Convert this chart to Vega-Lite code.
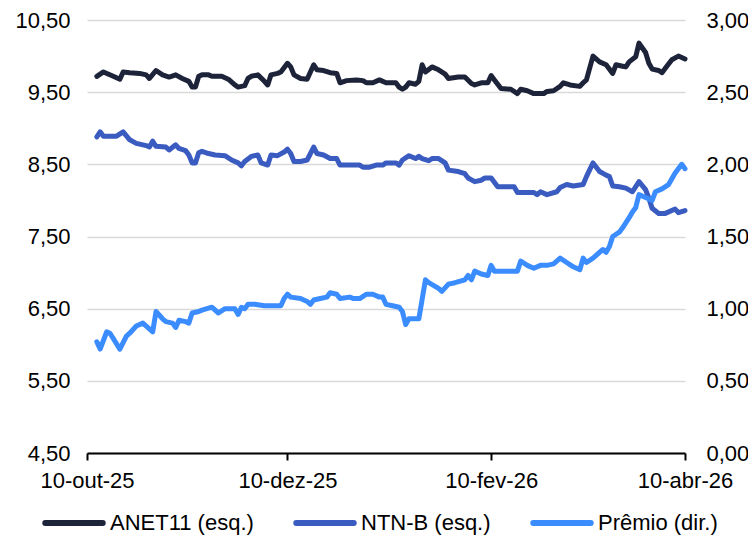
{
  "$schema": "https://vega.github.io/schema/vega-lite/v6.json",
  "width": 598,
  "height": 433,
  "autosize": {"type": "none"},
  "padding": {"left": 87, "top": 20, "right": 63, "bottom": 90},
  "background": "white",
  "config": {
    "view": {"stroke": null},
    "font": "Liberation Sans",
    "axis": {"labelFont": "Liberation Sans", "labelFontSize": 22, "labelColor": "#000000"},
    "legend": {"labelFont": "Liberation Sans", "labelFontSize": 22, "labelColor": "#000000"}
  },
  "datasets": {
    "anet": [
      {"d": "2025-10-13", "v": 9.72}, {"d": "2025-10-15", "v": 9.78}, {"d": "2025-10-18", "v": 9.72}, {"d": "2025-10-20", "v": 9.68},
      {"d": "2025-10-21", "v": 9.78}, {"d": "2025-10-23", "v": 9.77}, {"d": "2025-10-26", "v": 9.76}, {"d": "2025-10-28", "v": 9.74},
      {"d": "2025-10-29", "v": 9.69}, {"d": "2025-10-31", "v": 9.80}, {"d": "2025-11-02", "v": 9.74}, {"d": "2025-11-04", "v": 9.71},
      {"d": "2025-11-06", "v": 9.74}, {"d": "2025-11-08", "v": 9.69}, {"d": "2025-11-10", "v": 9.65}, {"d": "2025-11-11", "v": 9.57},
      {"d": "2025-11-12", "v": 9.57}, {"d": "2025-11-13", "v": 9.72}, {"d": "2025-11-14", "v": 9.74}, {"d": "2025-11-16", "v": 9.74},
      {"d": "2025-11-17", "v": 9.72}, {"d": "2025-11-20", "v": 9.72}, {"d": "2025-11-22", "v": 9.68}, {"d": "2025-11-24", "v": 9.60},
      {"d": "2025-11-25", "v": 9.57}, {"d": "2025-11-27", "v": 9.59}, {"d": "2025-11-28", "v": 9.69}, {"d": "2025-11-29", "v": 9.72},
      {"d": "2025-12-01", "v": 9.74}, {"d": "2025-12-03", "v": 9.65}, {"d": "2025-12-04", "v": 9.60}, {"d": "2025-12-05", "v": 9.74},
      {"d": "2025-12-07", "v": 9.76}, {"d": "2025-12-08", "v": 9.78}, {"d": "2025-12-10", "v": 9.90}, {"d": "2025-12-11", "v": 9.85},
      {"d": "2025-12-12", "v": 9.74}, {"d": "2025-12-14", "v": 9.69}, {"d": "2025-12-16", "v": 9.68}, {"d": "2025-12-18", "v": 9.88},
      {"d": "2025-12-19", "v": 9.81}, {"d": "2025-12-21", "v": 9.80}, {"d": "2025-12-23", "v": 9.77}, {"d": "2025-12-25", "v": 9.76},
      {"d": "2025-12-26", "v": 9.63}, {"d": "2025-12-28", "v": 9.66}, {"d": "2025-12-31", "v": 9.67}, {"d": "2026-01-02", "v": 9.66},
      {"d": "2026-01-03", "v": 9.63}, {"d": "2026-01-05", "v": 9.63}, {"d": "2026-01-07", "v": 9.67}, {"d": "2026-01-09", "v": 9.63},
      {"d": "2026-01-12", "v": 9.63}, {"d": "2026-01-13", "v": 9.57}, {"d": "2026-01-14", "v": 9.54}, {"d": "2026-01-15", "v": 9.57},
      {"d": "2026-01-16", "v": 9.63}, {"d": "2026-01-18", "v": 9.61}, {"d": "2026-01-19", "v": 9.65}, {"d": "2026-01-20", "v": 9.88},
      {"d": "2026-01-21", "v": 9.78}, {"d": "2026-01-23", "v": 9.85}, {"d": "2026-01-25", "v": 9.81}, {"d": "2026-01-27", "v": 9.75},
      {"d": "2026-01-28", "v": 9.69}, {"d": "2026-01-31", "v": 9.71}, {"d": "2026-02-02", "v": 9.71}, {"d": "2026-02-04", "v": 9.62},
      {"d": "2026-02-05", "v": 9.60}, {"d": "2026-02-07", "v": 9.63}, {"d": "2026-02-09", "v": 9.63}, {"d": "2026-02-10", "v": 9.73},
      {"d": "2026-02-11", "v": 9.67}, {"d": "2026-02-13", "v": 9.55}, {"d": "2026-02-16", "v": 9.54}, {"d": "2026-02-18", "v": 9.48},
      {"d": "2026-02-19", "v": 9.54}, {"d": "2026-02-21", "v": 9.52}, {"d": "2026-02-23", "v": 9.48}, {"d": "2026-02-25", "v": 9.48},
      {"d": "2026-02-26", "v": 9.48}, {"d": "2026-02-27", "v": 9.51}, {"d": "2026-03-01", "v": 9.52}, {"d": "2026-03-03", "v": 9.58},
      {"d": "2026-03-04", "v": 9.63}, {"d": "2026-03-06", "v": 9.60}, {"d": "2026-03-09", "v": 9.58}, {"d": "2026-03-10", "v": 9.63},
      {"d": "2026-03-11", "v": 9.67}, {"d": "2026-03-13", "v": 10.00}, {"d": "2026-03-15", "v": 9.92}, {"d": "2026-03-17", "v": 9.88},
      {"d": "2026-03-19", "v": 9.76}, {"d": "2026-03-20", "v": 9.88}, {"d": "2026-03-22", "v": 9.86}, {"d": "2026-03-23", "v": 9.85},
      {"d": "2026-03-24", "v": 9.92}, {"d": "2026-03-26", "v": 9.99}, {"d": "2026-03-27", "v": 10.18}, {"d": "2026-03-29", "v": 10.05},
      {"d": "2026-03-30", "v": 9.90}, {"d": "2026-03-31", "v": 9.82}, {"d": "2026-04-02", "v": 9.80}, {"d": "2026-04-03", "v": 9.77},
      {"d": "2026-04-04", "v": 9.83}, {"d": "2026-04-06", "v": 9.95}, {"d": "2026-04-08", "v": 10.00}, {"d": "2026-04-10", "v": 9.96}
    ],
    "ntnb": [
      {"d": "2025-10-13", "v": 8.88}, {"d": "2025-10-14", "v": 8.95}, {"d": "2025-10-15", "v": 8.89}, {"d": "2025-10-19", "v": 8.89},
      {"d": "2025-10-21", "v": 8.95}, {"d": "2025-10-23", "v": 8.84}, {"d": "2025-10-25", "v": 8.79}, {"d": "2025-10-28", "v": 8.76},
      {"d": "2025-10-29", "v": 8.74}, {"d": "2025-10-30", "v": 8.82}, {"d": "2025-10-31", "v": 8.75}, {"d": "2025-11-03", "v": 8.74},
      {"d": "2025-11-04", "v": 8.70}, {"d": "2025-11-06", "v": 8.77}, {"d": "2025-11-07", "v": 8.72}, {"d": "2025-11-09", "v": 8.69},
      {"d": "2025-11-10", "v": 8.63}, {"d": "2025-11-11", "v": 8.52}, {"d": "2025-11-12", "v": 8.52}, {"d": "2025-11-13", "v": 8.66},
      {"d": "2025-11-14", "v": 8.68}, {"d": "2025-11-16", "v": 8.65}, {"d": "2025-11-18", "v": 8.63}, {"d": "2025-11-21", "v": 8.62},
      {"d": "2025-11-23", "v": 8.56}, {"d": "2025-11-25", "v": 8.52}, {"d": "2025-11-26", "v": 8.48}, {"d": "2025-11-27", "v": 8.54},
      {"d": "2025-11-29", "v": 8.61}, {"d": "2025-12-01", "v": 8.63}, {"d": "2025-12-02", "v": 8.52}, {"d": "2025-12-04", "v": 8.49},
      {"d": "2025-12-05", "v": 8.63}, {"d": "2025-12-07", "v": 8.62}, {"d": "2025-12-09", "v": 8.67}, {"d": "2025-12-10", "v": 8.71},
      {"d": "2025-12-11", "v": 8.65}, {"d": "2025-12-12", "v": 8.54}, {"d": "2025-12-14", "v": 8.54}, {"d": "2025-12-16", "v": 8.56},
      {"d": "2025-12-18", "v": 8.74}, {"d": "2025-12-19", "v": 8.65}, {"d": "2025-12-21", "v": 8.63}, {"d": "2025-12-23", "v": 8.58},
      {"d": "2025-12-25", "v": 8.58}, {"d": "2025-12-26", "v": 8.49}, {"d": "2025-12-28", "v": 8.49}, {"d": "2026-01-01", "v": 8.49},
      {"d": "2026-01-02", "v": 8.46}, {"d": "2026-01-04", "v": 8.46}, {"d": "2026-01-06", "v": 8.49}, {"d": "2026-01-08", "v": 8.49},
      {"d": "2026-01-09", "v": 8.52}, {"d": "2026-01-12", "v": 8.52}, {"d": "2026-01-13", "v": 8.49}, {"d": "2026-01-14", "v": 8.56},
      {"d": "2026-01-16", "v": 8.62}, {"d": "2026-01-18", "v": 8.58}, {"d": "2026-01-19", "v": 8.61}, {"d": "2026-01-20", "v": 8.58},
      {"d": "2026-01-22", "v": 8.55}, {"d": "2026-01-23", "v": 8.58}, {"d": "2026-01-25", "v": 8.58}, {"d": "2026-01-27", "v": 8.52},
      {"d": "2026-01-28", "v": 8.42}, {"d": "2026-01-31", "v": 8.40}, {"d": "2026-02-02", "v": 8.37}, {"d": "2026-02-03", "v": 8.31},
      {"d": "2026-02-05", "v": 8.26}, {"d": "2026-02-07", "v": 8.28}, {"d": "2026-02-08", "v": 8.31}, {"d": "2026-02-10", "v": 8.31},
      {"d": "2026-02-12", "v": 8.19}, {"d": "2026-02-17", "v": 8.19}, {"d": "2026-02-18", "v": 8.11}, {"d": "2026-02-23", "v": 8.11},
      {"d": "2026-02-24", "v": 8.08}, {"d": "2026-02-25", "v": 8.12}, {"d": "2026-02-27", "v": 8.08}, {"d": "2026-03-02", "v": 8.12},
      {"d": "2026-03-03", "v": 8.18}, {"d": "2026-03-05", "v": 8.22}, {"d": "2026-03-07", "v": 8.20}, {"d": "2026-03-10", "v": 8.22},
      {"d": "2026-03-11", "v": 8.33}, {"d": "2026-03-13", "v": 8.52}, {"d": "2026-03-15", "v": 8.40}, {"d": "2026-03-17", "v": 8.35},
      {"d": "2026-03-18", "v": 8.33}, {"d": "2026-03-19", "v": 8.20}, {"d": "2026-03-21", "v": 8.19}, {"d": "2026-03-23", "v": 8.17},
      {"d": "2026-03-25", "v": 8.12}, {"d": "2026-03-27", "v": 8.26}, {"d": "2026-03-29", "v": 8.15}, {"d": "2026-03-30", "v": 8.03},
      {"d": "2026-03-31", "v": 7.89}, {"d": "2026-04-02", "v": 7.82}, {"d": "2026-04-04", "v": 7.82}, {"d": "2026-04-07", "v": 7.88},
      {"d": "2026-04-08", "v": 7.83}, {"d": "2026-04-10", "v": 7.86}
    ],
    "premio": [
      {"d": "2025-10-13", "v": 0.77}, {"d": "2025-10-14", "v": 0.72}, {"d": "2025-10-16", "v": 0.84}, {"d": "2025-10-17", "v": 0.83},
      {"d": "2025-10-20", "v": 0.72}, {"d": "2025-10-22", "v": 0.81}, {"d": "2025-10-23", "v": 0.83}, {"d": "2025-10-25", "v": 0.88},
      {"d": "2025-10-27", "v": 0.90}, {"d": "2025-10-30", "v": 0.84}, {"d": "2025-10-31", "v": 0.98}, {"d": "2025-11-02", "v": 0.93},
      {"d": "2025-11-03", "v": 0.91}, {"d": "2025-11-05", "v": 0.90}, {"d": "2025-11-06", "v": 0.87}, {"d": "2025-11-07", "v": 0.92},
      {"d": "2025-11-09", "v": 0.91}, {"d": "2025-11-10", "v": 0.90}, {"d": "2025-11-11", "v": 0.97}, {"d": "2025-11-13", "v": 0.98},
      {"d": "2025-11-14", "v": 0.99}, {"d": "2025-11-17", "v": 1.01}, {"d": "2025-11-19", "v": 0.97}, {"d": "2025-11-21", "v": 1.00},
      {"d": "2025-11-24", "v": 1.00}, {"d": "2025-11-25", "v": 0.96}, {"d": "2025-11-26", "v": 1.01}, {"d": "2025-11-27", "v": 1.00},
      {"d": "2025-11-28", "v": 1.03}, {"d": "2025-11-30", "v": 1.03}, {"d": "2025-12-03", "v": 1.02}, {"d": "2025-12-08", "v": 1.02},
      {"d": "2025-12-09", "v": 1.07}, {"d": "2025-12-10", "v": 1.10}, {"d": "2025-12-11", "v": 1.08}, {"d": "2025-12-14", "v": 1.07},
      {"d": "2025-12-16", "v": 1.05}, {"d": "2025-12-17", "v": 1.03}, {"d": "2025-12-18", "v": 1.06}, {"d": "2025-12-20", "v": 1.07},
      {"d": "2025-12-22", "v": 1.08}, {"d": "2025-12-23", "v": 1.11}, {"d": "2025-12-25", "v": 1.10}, {"d": "2025-12-26", "v": 1.07},
      {"d": "2025-12-29", "v": 1.08}, {"d": "2025-12-30", "v": 1.07}, {"d": "2026-01-01", "v": 1.07}, {"d": "2026-01-03", "v": 1.10},
      {"d": "2026-01-05", "v": 1.10}, {"d": "2026-01-07", "v": 1.08}, {"d": "2026-01-08", "v": 1.08}, {"d": "2026-01-09", "v": 1.03},
      {"d": "2026-01-11", "v": 1.02}, {"d": "2026-01-13", "v": 1.01}, {"d": "2026-01-14", "v": 0.98}, {"d": "2026-01-15", "v": 0.89},
      {"d": "2026-01-16", "v": 0.93}, {"d": "2026-01-19", "v": 0.93}, {"d": "2026-01-21", "v": 1.20}, {"d": "2026-01-22", "v": 1.18},
      {"d": "2026-01-25", "v": 1.14}, {"d": "2026-01-26", "v": 1.12}, {"d": "2026-01-28", "v": 1.17}, {"d": "2026-01-30", "v": 1.18},
      {"d": "2026-02-02", "v": 1.20}, {"d": "2026-02-03", "v": 1.23}, {"d": "2026-02-04", "v": 1.20}, {"d": "2026-02-05", "v": 1.26},
      {"d": "2026-02-07", "v": 1.24}, {"d": "2026-02-09", "v": 1.23}, {"d": "2026-02-10", "v": 1.30}, {"d": "2026-02-11", "v": 1.26},
      {"d": "2026-02-13", "v": 1.26}, {"d": "2026-02-18", "v": 1.26}, {"d": "2026-02-19", "v": 1.33}, {"d": "2026-02-21", "v": 1.30},
      {"d": "2026-02-23", "v": 1.28}, {"d": "2026-02-25", "v": 1.30}, {"d": "2026-02-27", "v": 1.30}, {"d": "2026-03-01", "v": 1.31},
      {"d": "2026-03-03", "v": 1.35}, {"d": "2026-03-05", "v": 1.32}, {"d": "2026-03-07", "v": 1.29}, {"d": "2026-03-09", "v": 1.27},
      {"d": "2026-03-10", "v": 1.35}, {"d": "2026-03-11", "v": 1.32}, {"d": "2026-03-13", "v": 1.35}, {"d": "2026-03-16", "v": 1.41},
      {"d": "2026-03-17", "v": 1.39}, {"d": "2026-03-18", "v": 1.43}, {"d": "2026-03-19", "v": 1.50}, {"d": "2026-03-21", "v": 1.53},
      {"d": "2026-03-22", "v": 1.56}, {"d": "2026-03-24", "v": 1.63}, {"d": "2026-03-25", "v": 1.67}, {"d": "2026-03-26", "v": 1.70},
      {"d": "2026-03-27", "v": 1.79}, {"d": "2026-03-29", "v": 1.77}, {"d": "2026-03-31", "v": 1.75}, {"d": "2026-04-01", "v": 1.81},
      {"d": "2026-04-03", "v": 1.83}, {"d": "2026-04-05", "v": 1.86}, {"d": "2026-04-07", "v": 1.94}, {"d": "2026-04-09", "v": 2.00},
      {"d": "2026-04-10", "v": 1.97}
    ]
  },
  "encoding": {
    "x": {
      "field": "d",
      "type": "temporal",
      "scale": {
        "type": "utc",
        "domain": [
          {"year": 2025, "month": 10, "date": 10, "utc": true},
          {"year": 2026, "month": 4, "date": 10, "utc": true}
        ]
      },
      "axis": {
        "title": null,
        "values": [
          {"year": 2025, "month": 10, "date": 10, "utc": true},
          {"year": 2025, "month": 12, "date": 10, "utc": true},
          {"year": 2026, "month": 2, "date": 10, "utc": true},
          {"year": 2026, "month": 4, "date": 10, "utc": true}
        ],
        "labelExpr": "utcdate(datum.value) + '-' + ['jan','fev','mar','abr','mai','jun','jul','ago','set','out','nov','dez'][utcmonth(datum.value)] + '-' + utcFormat(datum.value, '%y')",
        "grid": false,
        "domainColor": "#000000",
        "domainWidth": 2,
        "tickColor": "#000000",
        "tickWidth": 2,
        "tickSize": 7,
        "labelPadding": 10,
        "labelAngle": 0,
        "labelFlush": false,
        "labelOverlap": false,
        "zindex": 1
      }
    }
  },
  "layer": [
    {
      "layer": [
        {
          "data": {"name": "anet"},
          "mark": {"type": "line", "strokeWidth": 5, "strokeJoin": "round", "strokeCap": "round"},
          "encoding": {
            "y": {
              "field": "v",
              "type": "quantitative",
              "scale": {"domain": [4.5, 10.5], "nice": false, "zero": false},
              "axis": {
                "title": null,
                "values": [4.5, 5.5, 6.5, 7.5, 8.5, 9.5, 10.5],
                "labelExpr": "replace(format(datum.value, '.2f'), '.', ',')",
                "domain": false,
                "ticks": false,
                "grid": true,
                "gridColor": "#d9d9d9",
                "gridWidth": 1.5,
                "labelPadding": 17
              }
            },
            "color": {
              "datum": "ANET11 (esq.)",
              "type": "nominal",
              "scale": {
                "domain": ["ANET11 (esq.)", "NTN-B (esq.)", "Prêmio (dir.)"],
                "range": ["#1d2339", "#3a5bc0", "#3b8cff"]
              },
              "legend": {
                "orient": "none",
                "legendX": -45,
                "legendY": 471,
                "direction": "horizontal",
                "title": null,
                "symbolType": "stroke",
                "symbolStrokeWidth": 6,
                "symbolSize": 3300,
                "columnPadding": 30,
                "labelOffset": 4,
                "encode": {"symbols": {"update": {"strokeCap": {"value": "round"}}}}
              }
            }
          }
        },
        {
          "data": {"name": "ntnb"},
          "mark": {"type": "line", "strokeWidth": 5, "strokeJoin": "round", "strokeCap": "round"},
          "encoding": {
            "y": {"field": "v", "type": "quantitative"},
            "color": {"datum": "NTN-B (esq.)", "type": "nominal"}
          }
        }
      ]
    },
    {
      "data": {"name": "premio"},
      "mark": {"type": "line", "strokeWidth": 5, "strokeJoin": "round", "strokeCap": "round"},
      "encoding": {
        "y": {
          "field": "v",
          "type": "quantitative",
          "scale": {"domain": [0, 3], "nice": false},
          "axis": {
            "orient": "right",
            "title": null,
            "values": [0, 0.5, 1, 1.5, 2, 2.5, 3],
            "labelExpr": "replace(format(datum.value, '.2f'), '.', ',')",
            "domain": false,
            "ticks": false,
            "grid": false,
            "labelPadding": 21
          }
        },
        "color": {"datum": "Prêmio (dir.)", "type": "nominal"}
      }
    }
  ],
  "resolve": {"scale": {"y": "independent"}}
}
